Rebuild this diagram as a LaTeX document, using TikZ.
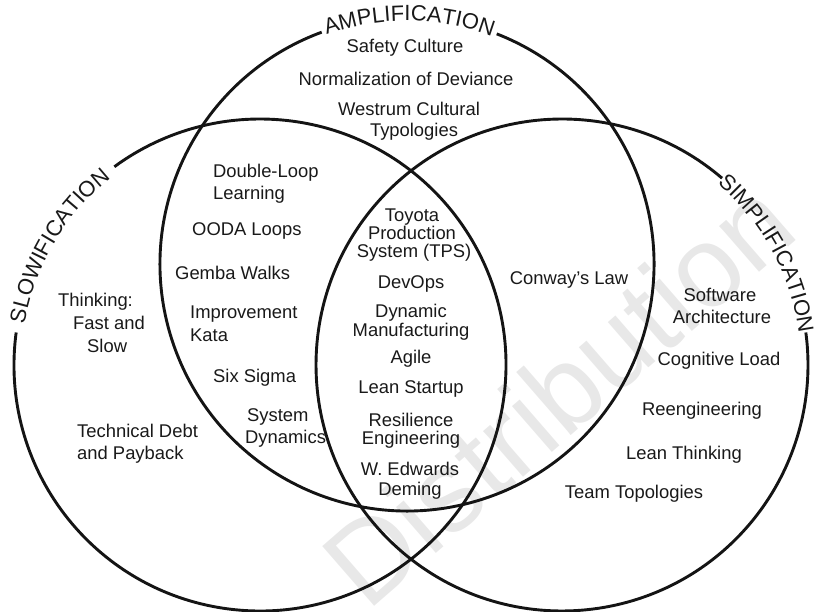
\documentclass[tikz,border=0pt]{standalone}
\usepackage{fontspec}
\setmainfont{Liberation Sans}
\usetikzlibrary{decorations.text}
\newcommand\arcfont{\fontsize{22}{22}\selectfont}
\begin{document}
\begin{tikzpicture}[x=1pt,y=1pt,
  ring/.style={line width=2.9pt, draw=black!92},
  txt/.style={font=\fontsize{18.4}{18.4}\selectfont, inner sep=0pt, anchor=base, text=black!90},
  txtl/.style={txt, anchor=base west},
  arclabel/.style={decorate, decoration={text along path, text align=center, text color=black!90}},
  wmark/.style={font=\fontsize{115}{115}\selectfont, text=black!9, inner sep=0pt}
]
\useasboundingbox (0,0) rectangle (818,612);
% watermark
\node[wmark, rotate=41] (wm) at (558,219) {Distribution};
% centres
\coordinate (ct) at (407,348);
\coordinate (cl) at (260,247);
\coordinate (cr) at (562,247);
% circles with gaps for their labels
\draw[ring] (ct) ++(110.2:247) arc[start angle=110.2, end angle=428.7, radius=247];
\draw[ring] (cl) ++(172.4:246) arc[start angle=172.4, end angle=486.3, radius=246];
\draw[ring] (cr) ++(49.4:246) arc[start angle=49.4, end angle=367.6, radius=246];
% curved labels
\path[arclabel, decoration={text={|\arcfont|AMPLIFICATION}}] (ct) ++(110.2:243) arc[start angle=110.2, end angle=68.7, radius=243];
\path[arclabel, decoration={text={|\arcfont|SLOWIFICATION}}] (cl) ++(172.6:239) arc[start angle=172.6, end angle=126.1, radius=239];
\path[arclabel, decoration={text={|\arcfont|SIMPLIFICATION}}] (cr) ++(49.6:239) arc[start angle=49.6, end angle=7.4, radius=239];
% amplification only
\node[txt] (a1) at (405,559) {Safety Culture};
\node[txt] (a2) at (406,526) {Normalization of Deviance};
\node[txt] (a3) at (409,496) {Westrum Cultural};
\node[txt] (a4) at (414,475) {Typologies};
% amplification + slowification
\node[txtl] (b1) at (213,434) {Double-Loop};
\node[txtl] (b2) at (213,412) {Learning};
\node[txtl] (b3) at (192,376) {OODA Loops};
\node[txtl] (b4) at (175,332) {Gemba Walks};
\node[txtl] (b5) at (190,293) {Improvement};
\node[txtl] (b6) at (190,270) {Kata};
\node[txtl] (b7) at (213,229) {Six Sigma};
\node[txtl] (b8) at (247,190) {System};
\node[txtl] (b9) at (245,168) {Dynamics};
% slowification only
\node[txtl] (s1) at (58,305) {Thinking:};
\node[txtl] (s2) at (73,282) {Fast and};
\node[txtl] (s3) at (87,259) {Slow};
\node[txtl] (s4) at (77,174) {Technical Debt};
\node[txtl] (s5) at (77,152) {and Payback};
% centre
\node[txt] (c1) at (412,390) {Toyota};
\node[txt] (c2) at (412,372) {Production};
\node[txt] (c3) at (414,354) {System (TPS)};
\node[txt] (c4) at (411,323) {DevOps};
\node[txt] (c5) at (411,294) {Dynamic};
\node[txt] (c6) at (411,275) {Manufacturing};
\node[txt] (c7) at (411,248) {Agile};
\node[txt] (c8) at (411,218) {Lean Startup};
\node[txt] (c9) at (411,185) {Resilience};
\node[txt] (c10) at (411,167) {Engineering};
\node[txt] (c11) at (410,136) {W. Edwards};
\node[txt] (c12) at (410,116) {Deming};
% amplification + simplification
\node[txt] (d1) at (569,327) {Conway’s Law};
% simplification only
\node[txt] (r1) at (720,310) {Software};
\node[txt] (r2) at (722,288) {Architecture};
\node[txt] (r3) at (719,246) {Cognitive Load};
\node[txt] (r4) at (702,196) {Reengineering};
\node[txt] (r5) at (684,152) {Lean Thinking};
\node[txt] (r6) at (634,113) {Team Topologies};
\end{tikzpicture}
\end{document}
